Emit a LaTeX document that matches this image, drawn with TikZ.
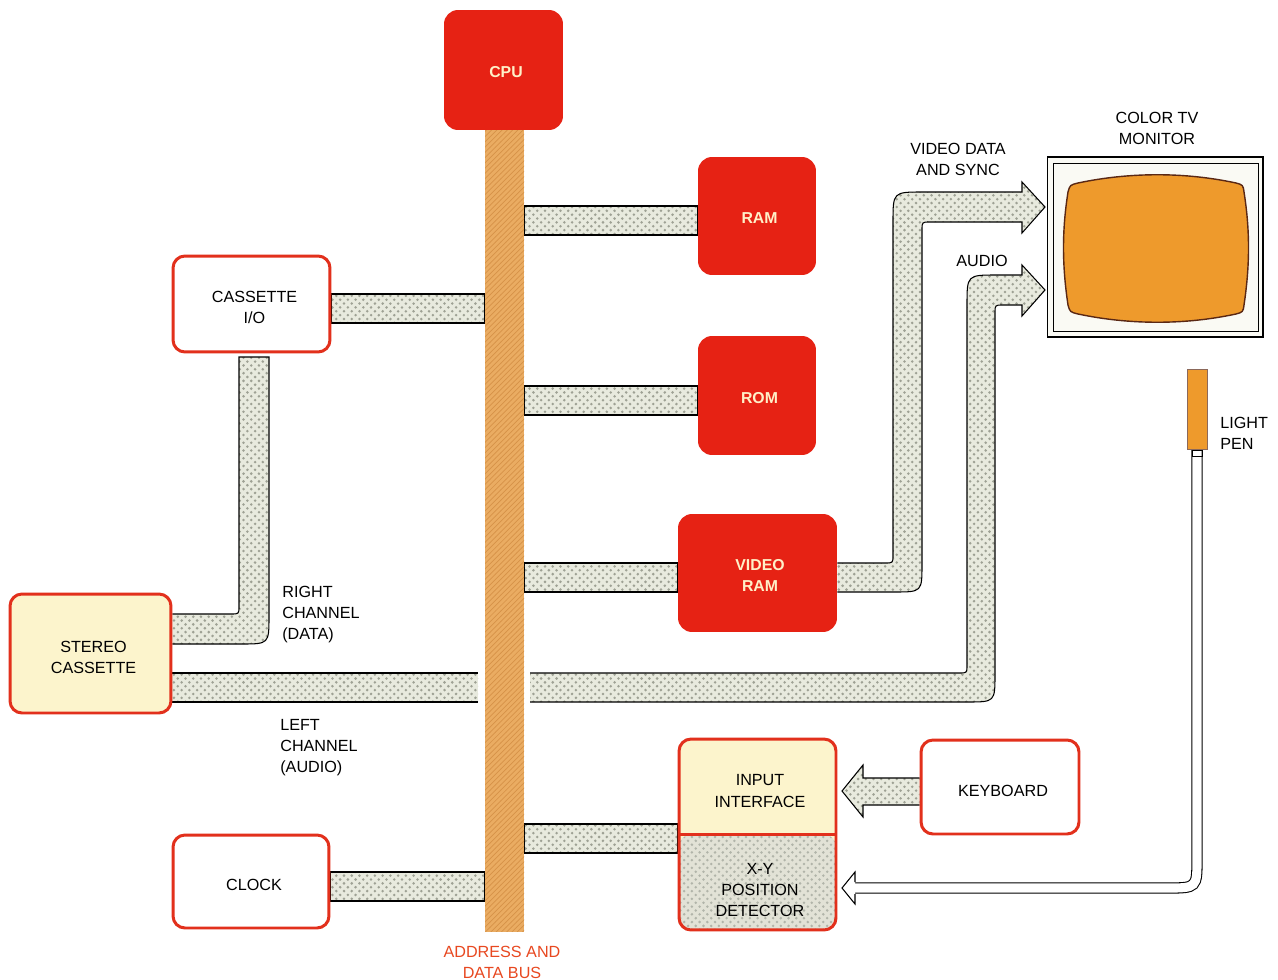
\documentclass[tikz,border=0pt]{standalone}
\usepackage{fontspec}
\setmainfont{Liberation Sans}
\usetikzlibrary{patterns}
\pgfdeclarelayer{background}
\pgfsetlayers{background,main}
\pgfdeclarepatternformonly{bigdots}{\pgfqpoint{-1pt}{-1pt}}{\pgfqpoint{5pt}{5pt}}{\pgfqpoint{4.4pt}{4.4pt}}{%
  \pgfpathcircle{\pgfqpoint{0pt}{0pt}}{0.8pt}%
  \pgfpathcircle{\pgfqpoint{2.2pt}{2.2pt}}{0.8pt}%
  \pgfusepath{fill}}
\definecolor{chipred}{RGB}{230,34,20}
\definecolor{chiptext}{RGB}{255,240,200}
\definecolor{boxred}{RGB}{226,48,28}
\definecolor{paleyellow}{RGB}{252,244,204}
\definecolor{xygray}{RGB}{226,226,214}
\definecolor{busorange}{RGB}{234,172,98}
\definecolor{busline}{RGB}{214,146,72}
\definecolor{pipefill}{RGB}{232,234,222}
\definecolor{pipedot}{RGB}{158,161,148}
\definecolor{screenorange}{RGB}{238,154,44}
\definecolor{screenedge}{RGB}{90,40,20}
\definecolor{buslabel}{RGB}{232,72,32}
\definecolor{framefill}{RGB}{250,250,244}
\begin{document}
\begin{tikzpicture}[x=0.02cm,y=-0.02cm,
  every node/.style={inner sep=0pt, font=\fontsize{9.2}{12}\selectfont, align=center},
  chip/.style={fill=chipred, rounded corners=0.28cm},
  chiplbl/.style={label={[text=chiptext, font=\fontsize{9}{12}\selectfont\bfseries, xshift=0.05cm, yshift=-0.05cm]center:#1}},
  outbox/.style={draw=boxred, line width=1.7pt, rounded corners=0.24cm},
  boxlbl/.style={label={[xshift=0.06cm, yshift=-0.07cm]center:#1}},
  pipe/.style={draw=black, line width=0.6pt, preaction={fill=pipefill}, pattern=bigdots, pattern color=pipedot},
  pipefillonly/.style={preaction={fill=pipefill}, pattern=bigdots, pattern color=pipedot},
  pipeedge/.style={draw=black, line width=0.6pt},
  tube/.style={draw=black, line width=0.6pt, double=white, double distance=5.2pt}
]
\useasboundingbox (0,0) rectangle (1278,980);

% chips
\node[chip, chiplbl=CPU, minimum width=2.38cm, minimum height=2.40cm] (cpu) at (503.5,70) {};
\node[chip, chiplbl=RAM, minimum width=2.36cm, minimum height=2.36cm] (ram) at (757,216) {};
\node[chip, chiplbl=ROM, minimum width=2.36cm, minimum height=2.38cm] (rom) at (757,395.5) {};
\node[chip, chiplbl={VIDEO\\RAM}, minimum width=3.18cm, minimum height=2.36cm] (vram) at (757.5,573) {};

% bus
\node[preaction={fill=busorange}, pattern=north east lines, pattern color=busline,
      minimum width=0.78cm, minimum height=16.04cm] (bus) at (504.5,531) {};
\node[text=buslabel] (buslbl) at (502,962) {ADDRESS AND\\DATA BUS};

% outlined boxes
\node[outbox, fill=white, boxlbl={CASSETTE\\I/O}, minimum width=3.14cm, minimum height=1.92cm] (cassio) at (251.5,304) {};
\node[outbox, fill=paleyellow, boxlbl={STEREO\\CASSETTE}, minimum width=3.22cm, minimum height=2.38cm] (stereo) at (90.5,653.5) {};
\node[outbox, fill=white, boxlbl=CLOCK, minimum width=3.12cm, minimum height=1.86cm] (clock) at (251,881.5) {};
\node[outbox, fill=white, boxlbl=KEYBOARD, minimum width=3.16cm, minimum height=1.88cm] (keyboard) at (1000,787) {};
\node[outbox, fill=paleyellow, minimum width=3.14cm, minimum height=3.82cm,
      path picture={\fill[xygray] (path picture bounding box.west) rectangle (path picture bounding box.south east);
                    \fill[pattern=bigdots, pattern color=pipedot!80] (path picture bounding box.west) rectangle (path picture bounding box.south east);}] (inbox) at (757.5,834.5) {};
\draw[boxred, line width=1.7pt] (inbox.west) -- (inbox.east);
\node (iface) at (760,791) {INPUT\\INTERFACE};
\node (xy) at (760,890) {X-Y\\POSITION\\DETECTOR};

% monitor
\node[draw=black, line width=0.6pt, fill=framefill, minimum width=4.32cm, minimum height=3.6cm] (monitor) at (1155,247) {};
\draw[line width=0.5pt] ([shift={(7,7)}]monitor.north west) rectangle ([shift={(-5,-6)}]monitor.south east);
\draw[fill=screenorange, draw=screenedge, line width=0.8pt]
  (1078,183) .. controls (1130,172) and (1185,172) .. (1236,183)
  .. controls (1243,185) .. (1244,192)
  .. controls (1250,230) and (1250,265) .. (1244,305)
  .. controls (1243,312) .. (1236,314)
  .. controls (1185,325) and (1130,325) .. (1078,314)
  .. controls (1070,312) .. (1068,305)
  .. controls (1062,265) and (1062,230) .. (1068,192)
  .. controls (1070,185) .. (1078,183) -- cycle;

% light pen
\node[draw=screenedge!70, line width=0.5pt, fill=screenorange, minimum width=0.4cm, minimum height=1.6cm] (pen) at (1197,409) {};

% labels
\node (montxt) at (1157,128) {COLOR TV\\MONITOR};
\node (vdtxt) at (958,159.5) {VIDEO DATA\\AND SYNC};
\node (audtxt) at (982,261) {AUDIO};
\node[anchor=west, align=left] (pentxt) at (1220,433.5) {LIGHT\\PEN};
\node[anchor=west, align=left] (rctxt) at (282,614.5) {RIGHT\\CHANNEL\\(DATA)};
\node[anchor=west, align=left] (lctxt) at (280,748) {LEFT\\CHANNEL\\(AUDIO)};

\begin{pgfonlayer}{background}
\fill[white] (0,0) rectangle (1278,980);
% bus stubs
\draw[pipe] (bus.east |- 0,206) rectangle (ram.west |- 0,235);
\draw[pipe] (bus.east |- 0,386) rectangle (rom.west |- 0,415);
\draw[pipe] (bus.east |- 0,563) rectangle (vram.west |- 0,592);
\draw[pipe] (bus.east |- 0,824) rectangle (inbox.west |- 0,853);
\draw[pipe] (cassio.east |- 0,294) rectangle (bus.west |- 0,323);
\draw[pipe] (clock.east |- 0,872) rectangle (bus.west |- 0,901);
% right channel
\draw[pipe] (stereo.east |- 0,644) -- (241,644) .. controls (269,644) .. (269,616) -- (269,357)
  -- (239,357) -- (239,606) .. controls (239,614) .. (231,614) -- (stereo.east |- 0,614);
% left channel
\fill[pipefillonly] (stereo.east |- 0,673) rectangle (478,702);
\draw[pipeedge] (stereo.east |- 0,673) -- (478,673);
\draw[pipeedge] (stereo.east |- 0,702) -- (478,702);
\draw[pipe] (530,673) -- (959,673) .. controls (967,673) .. (967,665) -- (967,305)
  .. controls (967,275) .. (997,275) -- (1022,275) -- (1022,265) -- (1045,290) -- (1022,316)
  -- (1022,305) -- (1003,305) .. controls (995,305) .. (995,313) -- (995,674)
  .. controls (995,702) .. (967,702) -- (530,702);
% video
\draw[pipe] (vram.east |- 0,563) -- (885,563) .. controls (893,563) .. (893,555) -- (893,222)
  .. controls (893,192) .. (923,192) -- (1022,192) -- (1022,182) -- (1045,207) -- (1022,233)
  -- (1022,222) -- (930,222) .. controls (922,222) .. (922,230) -- (922,564)
  .. controls (922,592) .. (894,592) -- (vram.east |- 0,592);
% keyboard
\draw[pipe] (keyboard.west |- 0,778) -- (863,778) -- (863,765) -- (842,791) -- (863,817) -- (863,805) -- (keyboard.west |- 0,805);
% light pen tube
\draw[tube] (pen.south) -- (1197,858) .. controls (1197,888) .. (1167,888) -- (855,888);
\draw[line width=0.5pt] (1192,450) rectangle (1202,456);
\draw[fill=white, line width=0.6pt] (855,882) -- (855,872) -- (842,888) -- (855,904) -- (855,894);
\end{pgfonlayer}
\end{tikzpicture}
\end{document}
